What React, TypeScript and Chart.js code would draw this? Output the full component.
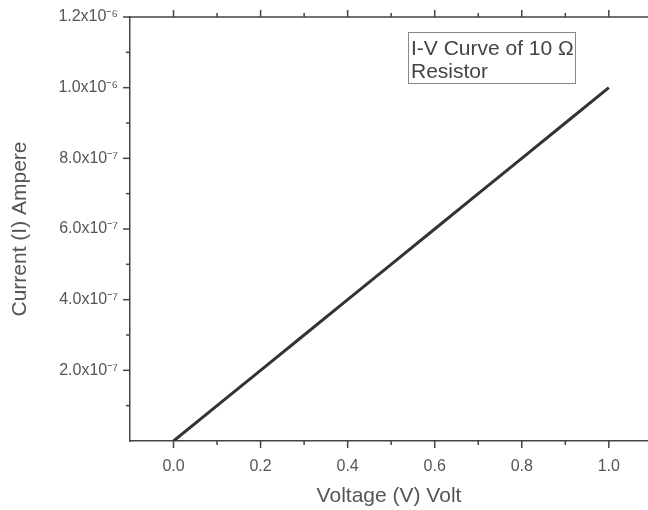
import React, { useEffect, useRef } from "react";
import { Chart, registerables } from "chart.js";

Chart.register(...registerables);

// ---- data ----
const VOLTAGE = [0.0, 0.1, 0.2, 0.3, 0.4, 0.5, 0.6, 0.7, 0.8, 0.9, 1.0];
const CURRENT = [0.0, 1.0e-7, 2.0e-7, 3.0e-7, 4.0e-7, 5.0e-7, 6.0e-7, 7.0e-7, 8.0e-7, 9.0e-7, 1.0e-6];

const X_MAJOR = [0.0, 0.2, 0.4, 0.6, 0.8, 1.0];
const X_MAJOR_LABELS = ["0.0", "0.2", "0.4", "0.6", "0.8", "1.0"];
const X_MINOR = [0.1, 0.3, 0.5, 0.7, 0.9];

const Y_MAJOR = [2e-7, 4e-7, 6e-7, 8e-7, 1.0e-6, 1.2e-6];
const Y_MAJOR_LABELS = ["2.0x10⁻⁷", "4.0x10⁻⁷", "6.0x10⁻⁷", "8.0x10⁻⁷", "1.0x10⁻⁶", "1.2x10⁻⁶"];
const Y_MINOR = [1e-7, 3e-7, 5e-7, 7e-7, 9e-7, 1.1e-6];

const X_TITLE = "Voltage (V) Volt";
const Y_TITLE = "Current (I) Ampere";
const NOTE_LINES = ["I-V Curve of 10 Ω", "Resistor"];

const FONT = "'Liberation Sans', Arial, sans-serif";
const TEXT = "#555";
const AXIS = "#444";

const near = (a: number, b: number) => Math.abs(a - b) < 1e-12 + Math.abs(b) * 1e-6;

const tickPlugin = {
  id: "customTicks",
  afterDraw(chart: any) {
    const { ctx, chartArea } = chart;
    const xs = chart.scales.x;
    const ys = chart.scales.y;
    ctx.save();
    ctx.strokeStyle = AXIS;
    ctx.lineWidth = 1.5;
    // top border
    ctx.beginPath();
    ctx.moveTo(chartArea.left, chartArea.top);
    ctx.lineTo(chartArea.right, chartArea.top);
    ctx.stroke();
    const xt = (v: number, len: number) => {
      const p = xs.getPixelForValue(v);
      ctx.beginPath();
      ctx.moveTo(p, chartArea.bottom);
      ctx.lineTo(p, chartArea.bottom + len);
      ctx.moveTo(p, chartArea.top);
      ctx.lineTo(p, chartArea.top - len);
      ctx.stroke();
    };
    X_MAJOR.forEach((v) => xt(v, 7));
    X_MINOR.forEach((v) => xt(v, 4));
    const yt = (v: number, len: number) => {
      const p = ys.getPixelForValue(v);
      ctx.beginPath();
      ctx.moveTo(chartArea.left, p);
      ctx.lineTo(chartArea.left - len, p);
      ctx.stroke();
    };
    Y_MAJOR.forEach((v) => yt(v, 7));
    Y_MINOR.forEach((v) => yt(v, 4));

    // note box
    const bx = chartArea.left + 278;
    const by = chartArea.top + 15;
    const bw = 167;
    const bh = 51;
    ctx.strokeStyle = "#888";
    ctx.lineWidth = 1;
    ctx.strokeRect(bx + 0.5, by + 0.5, bw, bh);
    ctx.fillStyle = "#444";
    ctx.font = `21px ${FONT}`;
    ctx.textBaseline = "alphabetic";
    ctx.textAlign = "left";
    ctx.fillText(NOTE_LINES[0], bx + 3, by + 23);
    ctx.fillText(NOTE_LINES[1], bx + 3, by + 46);
    ctx.restore();
  },
};

export default function App() {
  const ref = useRef<HTMLCanvasElement | null>(null);

  useEffect(() => {
    document.body.style.margin = "0";
    const canvas = ref.current;
    if (!canvas) return;
    const chart = new Chart(canvas, {
      type: "line",
      data: {
        labels: VOLTAGE,
        datasets: [
          {
            data: VOLTAGE.map((v, i) => ({ x: v, y: CURRENT[i] })),
            borderColor: "#333",
            borderWidth: 3,
            pointRadius: 0,
            fill: false,
            tension: 0,
          },
        ],
      },
      options: {
        animation: false,
        responsive: false,
        maintainAspectRatio: false,
        layout: { padding: { top: 17, right: 0, bottom: 0, left: 0 } },
        plugins: { legend: { display: false }, tooltip: { enabled: false } },
        scales: {
          x: {
            type: "linear",
            min: -0.1,
            max: 1.09,
            afterBuildTicks: (scale: any) => {
              scale.ticks = X_MAJOR.map((v) => ({ value: v }));
            },
            afterFit: (scale: any) => {
              scale.height = 69;
            },
            grid: {
              display: true,
              drawOnChartArea: false,
              drawTicks: true,
              tickLength: 7,
              tickColor: "transparent",
            },
            border: { display: true, color: AXIS, width: 1.5 },
            ticks: {
              padding: 9,
              color: TEXT,
              font: { family: FONT, size: 16 },
              maxRotation: 0,
              autoSkip: false,
              callback: (value: any) => {
                const i = X_MAJOR.findIndex((m) => near(m, Number(value)));
                return i >= 0 ? X_MAJOR_LABELS[i] : "";
              },
            },
            title: {
              display: true,
              text: X_TITLE,
              color: TEXT,
              font: { family: FONT, size: 21 },
              padding: { top: 0, bottom: 1 },
            },
          },
          y: {
            type: "linear",
            min: 0,
            max: 1.2e-6,
            afterBuildTicks: (scale: any) => {
              scale.ticks = Y_MAJOR.map((v) => ({ value: v }));
            },
            afterFit: (scale: any) => {
              scale.width = 130;
            },
            grid: {
              display: true,
              drawOnChartArea: false,
              drawTicks: true,
              tickLength: 7,
              tickColor: "transparent",
            },
            border: { display: true, color: AXIS, width: 1.5 },
            ticks: {
              padding: 5,
              color: TEXT,
              font: { family: FONT, size: 16 },
              autoSkip: false,
              callback: (value: any) => {
                const i = Y_MAJOR.findIndex((m) => near(m, Number(value)));
                return i >= 0 ? Y_MAJOR_LABELS[i] : "";
              },
            },
            title: {
              display: true,
              text: Y_TITLE,
              color: TEXT,
              font: { family: FONT, size: 21 },
              padding: { top: 8, bottom: 0 },
            },
          },
        },
      },
      plugins: [tickPlugin],
    } as any);
    return () => chart.destroy();
  }, []);

  return (
    <div style={{ position: "absolute", left: 0, top: 0, width: 648, height: 510, background: "#fff" }}>
      <canvas ref={ref} width={648} height={510} style={{ display: "block", width: 648, height: 510 }} />
    </div>
  );
}
